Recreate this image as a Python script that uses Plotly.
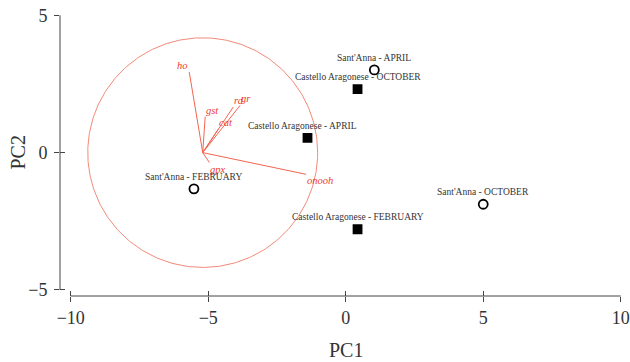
import plotly.graph_objects as go
import numpy as np

# ---- data ----
sample_names = ["Sant'Anna - APRIL", "Castello Aragonese - OCTOBER", "Castello Aragonese - APRIL",
                "Sant'Anna - FEBRUARY", "Sant'Anna - OCTOBER", "Castello Aragonese - FEBRUARY"]
pc1 = [1.04, 0.43, -1.39, -5.52, 5.0, 0.43]
pc2 = [3.01, 2.31, 0.54, -1.32, -1.88, -2.79]
site = ["Sant'Anna", "Castello Aragonese", "Castello Aragonese",
        "Sant'Anna", "Sant'Anna", "Castello Aragonese"]

var_names = ["ho", "gst", "rd", "gr", "cat", "gpx", "onooh"]
load_x = [-0.49, 0.09, 1.11, 1.36, 0.56, 0.24, 3.76]
load_y = [2.93, 1.31, 1.66, 1.72, 0.85, -0.36, -0.79]

circle_center = (-5.2, 0.0)
circle_radius = 4.18

x_ticks = [-10, -5, 0, 5, 10]
y_ticks = [-5, 0, 5]
x_title = "PC1"
y_title = "PC2"

# ---- style ----
FONT = "Liberation Serif"
RED_LINE = "#f26550"
RED_TEXT = "#ec3b2c"
CIRCLE = "#f28a78"
AX = "#444444"

fig = go.Figure()

# circle
t = np.linspace(0, 2 * np.pi, 361)
fig.add_trace(go.Scatter(x=circle_center[0] + circle_radius * np.cos(t),
                         y=circle_center[1] + circle_radius * np.sin(t),
                         mode="lines", line=dict(color=CIRCLE, width=1),
                         hoverinfo="skip", showlegend=False))

# loading vectors
for name, dx, dy in zip(var_names, load_x, load_y):
    x0, y0 = circle_center
    fig.add_trace(go.Scatter(x=[x0, x0 + dx], y=[y0, y0 + dy], mode="lines",
                             line=dict(color=RED_LINE, width=1),
                             hoverinfo="skip", showlegend=False))
    fig.add_annotation(x=x0 + dx, y=y0 + dy, text=f"<i>{name}</i>", showarrow=False,
                       xanchor="left" if dx >= 0 else "right",
                       yanchor="bottom" if dy >= 0 else "top",
                       font=dict(family=FONT, size=10.5, color=RED_TEXT), borderpad=0)

# samples
symbols = ["circle-open" if s == "Sant'Anna" else "square" for s in site]
sizes = [9 if s == "Sant'Anna" else 8 for s in site]
fig.add_trace(go.Scatter(x=pc1, y=pc2, mode="markers",
                         marker=dict(symbol=symbols, size=sizes, color="#000000", opacity=1,
                                     line=dict(color="#000000", width=1.8)),
                         showlegend=False))
label_xshift = [0, 0, -5, 0, 0, 0]
for name, x, y, xs in zip(sample_names, pc1, pc2, label_xshift):
    fig.add_annotation(x=x, y=y, text=name, showarrow=False, yshift=12, xshift=xs,
                       font=dict(family=FONT, size=9.5, color="#333333"))

# axis lines (detached style)
fig.add_shape(type="line", xref="x", yref="paper", x0=-10, x1=10, y0=0, y1=0,
              line=dict(color=AX, width=1))
fig.add_shape(type="line", xref="paper", yref="y", x0=0, x1=0, y0=-5, y1=5,
              line=dict(color=AX, width=1))

# axis titles
fig.add_annotation(text=x_title, xref="x", yref="paper", x=0, y=-0.192, showarrow=False,
                   yanchor="middle", font=dict(size=20, family=FONT, color="#333333"))
fig.add_annotation(text=y_title, xref="paper", yref="y", x=-0.075, y=0, showarrow=False,
                   textangle=-90, xanchor="center",
                   font=dict(size=20, family=FONT, color="#333333"))

XR = [-10.39, 10.01]
YR = [-5.22, 5.01]
common = dict(showgrid=False, zeroline=False, showline=False, tickcolor=AX,
              ticklen=5, tickwidth=1, automargin=False)
fig.update_layout(
    width=630, height=362,
    margin=dict(l=60, r=9, t=15, b=66),
    paper_bgcolor="white", plot_bgcolor="white",
    font=dict(family=FONT, color="#333333"),
    xaxis=dict(range=XR, tickvals=x_ticks, ticks="outside",
               tickfont=dict(size=18, family=FONT, color="#333333"), **common),
    yaxis=dict(range=YR, tickvals=y_ticks, ticks="outside", ticklabelstandoff=3,
               tickfont=dict(size=18, family=FONT, color="#333333"), **common),
    xaxis2=dict(range=XR, tickvals=x_ticks, ticks="inside", showticklabels=False,
                overlaying="x", anchor="y2", **common),
    yaxis2=dict(range=YR, tickvals=y_ticks, ticks="inside", showticklabels=False,
                overlaying="y", anchor="x2", **common),
)
fig.add_trace(go.Scatter(x=[None], y=[None], xaxis="x2", yaxis="y2",
                         showlegend=False, hoverinfo="skip"))

fig.write_html("out.html", config={"displayModeBar": False})
with open("out.html", encoding="utf-8") as f:
    html = f.read()
html = html.replace("<head>", "<head><style>html,body{margin:0;padding:0;overflow:hidden}</style>", 1)
with open("out.html", "w", encoding="utf-8") as f:
    f.write(html)
